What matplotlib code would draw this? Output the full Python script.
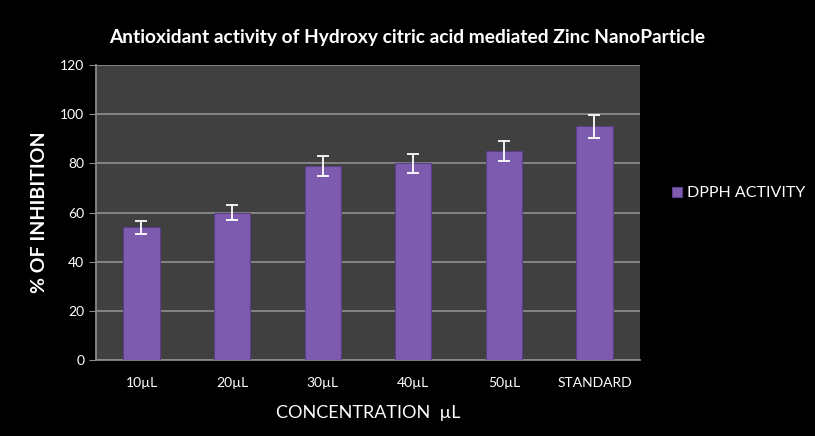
import matplotlib
matplotlib.use("Agg")
import matplotlib.pyplot as plt
import numpy as np

categories = ["10µL", "20µL", "30µL", "40µL", "50µL", "STANDARD"]
values = [54, 60, 79, 80, 85, 95]
errors = [2.7, 3.0, 4.0, 4.0, 4.2, 4.8]
yticks = [0, 20, 40, 60, 80, 100, 120]

plt.rcParams['font.family'] = ['Lato', 'DejaVu Sans']

fig = plt.figure(figsize=(8.15, 4.36), dpi=100, facecolor='black')
ax = fig.add_axes([0.118, 0.174, 0.667, 0.677])
ax.set_facecolor('#404040')

x = np.arange(len(categories))
bars = ax.bar(x, values, width=0.4, color='#7d5cb0', edgecolor='#5a3f85', linewidth=0.8, zorder=3,
              label='DPPH ACTIVITY')
ax.errorbar(x, values, yerr=errors, fmt='none', ecolor='white', elinewidth=1.3, capsize=4, capthick=1.3, zorder=4)

ax.set_ylim(0, 120)
ax.set_xlim(-0.5, len(categories) - 0.5)
ax.set_yticks(yticks)
ax.yaxis.grid(True, color='#8a8a8a', linewidth=1.3, zorder=0)
ax.set_axisbelow(True)
ax.set_xticks(x)
ax.set_xticklabels(categories)
ax.tick_params(axis='x', length=0, colors='white', labelsize=10, pad=12)
ax.tick_params(axis='y', length=5, color='#8a8a8a', colors='white', labelsize=10, direction='out')
for s in ['top', 'right']:
    ax.spines[s].set_visible(False)
for s in ['left', 'bottom']:
    ax.spines[s].set_color('#8a8a8a')
    ax.spines[s].set_linewidth(1.3)

ax.set_ylabel('% OF INHIBITION', color='white', fontsize=14, fontweight='bold', labelpad=9)
ax.set_xlabel('CONCENTRATION  µL', color='white', fontsize=13, labelpad=12)
fig.text(0.5, 0.913, 'Antioxidant activity of Hydroxy citric acid mediated Zinc NanoParticle',
         color='white', fontsize=13.8, fontweight='bold', ha='center', va='center')

leg = ax.legend(loc='center left', bbox_to_anchor=(1.06, 0.565), frameon=False, fontsize=11.5,
                handlelength=0.6, handleheight=0.6, handletextpad=0.3, labelcolor='white',
                borderaxespad=0.0, borderpad=0.0)

fig.savefig('out.png', dpi=100, facecolor='black')
